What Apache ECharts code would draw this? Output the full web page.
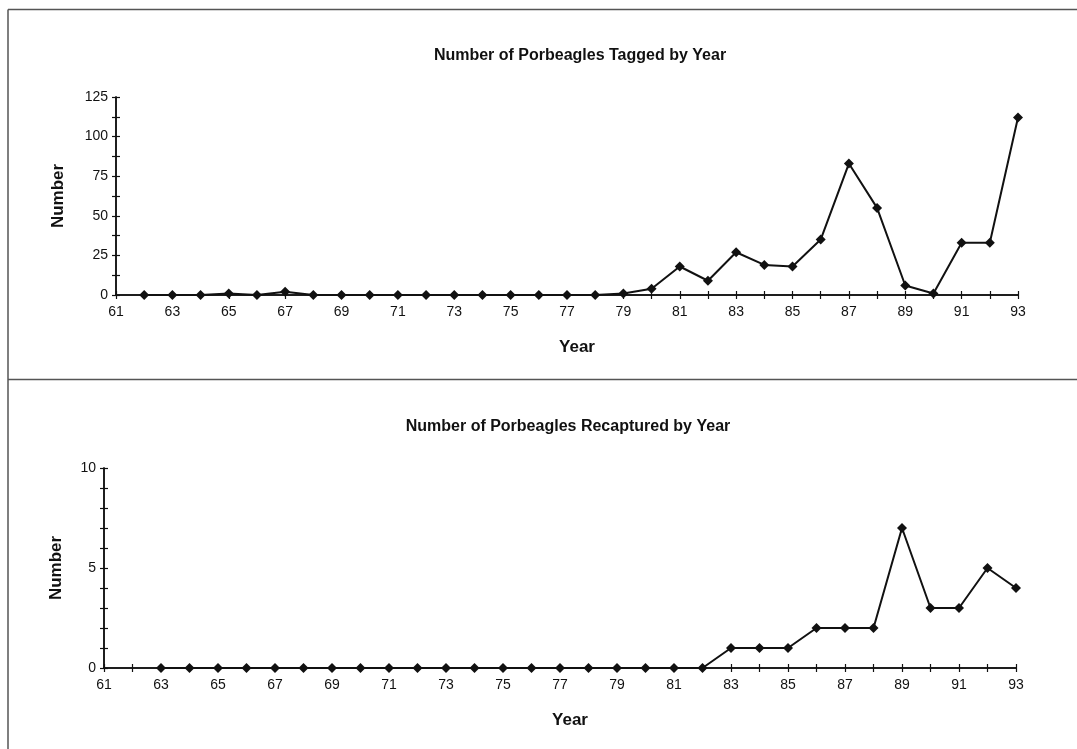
<!DOCTYPE html>
<html>
<head>
<meta charset="utf-8">
<script src="https://cdn.jsdelivr.net/npm/echarts@6/dist/echarts.min.js"></script>
<style>
  html, body { margin: 0; padding: 0; background: #fff; }
  #chart { width: 1077px; height: 749px; }
</style>
</head>
<body>
<div id="chart"></div>
<script>
// Porbeagle tagging programme, yearly counts (two-digit years)
const taggedYears = [62,63,64,65,66,67,68,69,70,71,72,73,74,75,76,77,78,79,80,81,82,83,84,85,86,87,88,89,90,91,92,93];
const taggedCounts = [0,0,0,1,0,2,0,0,0,0,0,0,0,0,0,0,0,1,4,18,9,27,19,18,35,83,55,6,1,33,33,112];

const recapYears = [63,64,65,66,67,68,69,70,71,72,73,74,75,76,77,78,79,80,81,82,83,84,85,86,87,88,89,90,91,92,93];
const recapCounts = [0,0,0,0,0,0,0,0,0,0,0,0,0,0,0,0,0,0,0,0,1,1,1,2,2,2,7,3,3,5,4];

const titles = ['Number of Porbeagles Tagged by Year', 'Number of Porbeagles Recaptured by Year'];
const yearRange = [61, 93];

const FONT = '"Liberation Sans", Arial, sans-serif';
const INK = '#111';

function pairs(xs, ys) { return xs.map((x, i) => [x, ys[i]]); }

// two overlapping x axes per grid: one with outward ticks and labels, one with inward ticks,
// giving crossing tick marks
function xAxes(grid) {
  const base = {
    type: 'value', gridIndex: grid, position: 'bottom', min: yearRange[0], max: yearRange[1], interval: 1,
    splitLine: { show: false },
    axisLine: { onZero: false, lineStyle: { color: INK, width: 1.5 } }
  };
  return [
    Object.assign({}, base, {
      axisTick: { length: 4, lineStyle: { color: INK, width: 1.2 } },
      axisLabel: { color: INK, fontFamily: FONT, fontSize: 14, margin: 10,
        formatter: v => (v % 2 === 1 ? String(v) : '') }
    }),
    Object.assign({}, base, {
      axisTick: { inside: true, length: 4, lineStyle: { color: INK, width: 1.2 } },
      axisLabel: { show: false }
    })
  ];
}

function yAxes(grid, max, step, labelStep) {
  const base = {
    type: 'value', gridIndex: grid, position: 'left', min: 0, max: max, interval: step,
    splitLine: { show: false },
    axisLine: { show: true, onZero: false, lineStyle: { color: INK, width: 1.5 } }
  };
  return [
    Object.assign({}, base, {
      axisTick: { show: true, length: 4, lineStyle: { color: INK, width: 1.2 } },
      axisLabel: { color: INK, fontFamily: FONT, fontSize: 14, margin: 8,
        formatter: v => (Math.abs(v % labelStep) < 1e-9 ? String(v) : '') }
    }),
    Object.assign({}, base, {
      axisTick: { show: true, inside: true, length: 4, lineStyle: { color: INK, width: 1.2 } },
      axisLabel: { show: false }
    })
  ];
}

function lineSeries(grid, data) {
  return {
    type: 'line', xAxisIndex: grid * 2, yAxisIndex: grid * 2, data: data,
    symbol: 'diamond', symbolSize: 10, showSymbol: true,
    lineStyle: { color: INK, width: 2 },
    itemStyle: { color: INK },
    animation: false, silent: true
  };
}

const titleStyle = { color: INK, fontFamily: FONT, fontSize: 16, fontWeight: 'bold' };
const nameStyle = { fill: INK, font: 'bold 17px ' + FONT, textAlign: 'center', textVerticalAlign: 'middle' };
const frame = { stroke: '#555', lineWidth: 1.5 };

const chart = echarts.init(document.getElementById('chart'), null, { renderer: 'canvas' });
chart.setOption({
  backgroundColor: '#fff',
  animation: false,
  title: [
    { text: titles[0], left: 575, top: 43, textAlign: 'center', textStyle: titleStyle },
    { text: titles[1], left: 563, top: 414, textAlign: 'center', textStyle: titleStyle }
  ],
  grid: [
    { left: 116, right: 59, top: 97, bottom: 454 },
    { left: 104, right: 61, top: 468, bottom: 81 }
  ],
  xAxis: xAxes(0).concat(xAxes(1)),
  yAxis: yAxes(0, 125, 12.5, 25).concat(yAxes(1, 10, 1, 5)),
  series: [
    lineSeries(0, pairs(taggedYears, taggedCounts)),
    lineSeries(1, pairs(recapYears, recapCounts))
  ],
  graphic: [
    { type: 'line', shape: { x1: 8, y1: 9.5, x2: 1077, y2: 9.5 }, style: frame },
    { type: 'line', shape: { x1: 8, y1: 9.5, x2: 8, y2: 749 }, style: frame },
    { type: 'line', shape: { x1: 8, y1: 379.5, x2: 1077, y2: 379.5 }, style: frame },
    { type: 'text', x: 58, y: 196, rotation: Math.PI / 2, style: Object.assign({ text: 'Number' }, nameStyle) },
    { type: 'text', x: 577, y: 347, style: Object.assign({ text: 'Year' }, nameStyle) },
    { type: 'text', x: 56, y: 568, rotation: Math.PI / 2, style: Object.assign({ text: 'Number' }, nameStyle) },
    { type: 'text', x: 570, y: 720, style: Object.assign({ text: 'Year' }, nameStyle) }
  ]
});
</script>
</body>
</html>
